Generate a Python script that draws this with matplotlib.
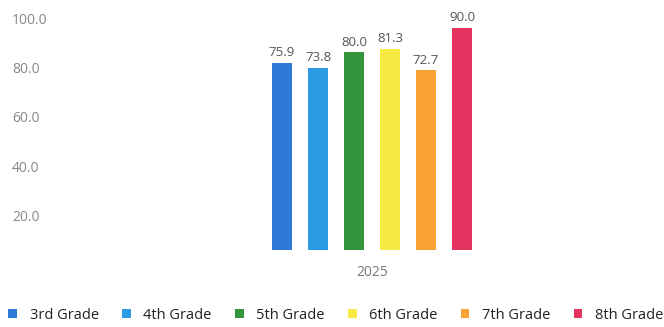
import matplotlib
matplotlib.use('Agg')
import matplotlib.pyplot as plt
import matplotlib.transforms as mtransforms
from matplotlib.patches import Patch

# data
year = '2025'
grades = ['3rd Grade', '4th Grade', '5th Grade', '6th Grade', '7th Grade', '8th Grade']
values = [75.9, 73.8, 80.0, 81.3, 72.7, 90.0]
colors = ['#2f7ad6', '#2b9be3', '#34963c', '#f7ea45', '#f9a133', '#e2335e']
yticks = [20, 40, 60, 80, 100]

plt.rcParams['font.family'] = ['Open Sans', 'DejaVu Sans']

fig = plt.figure(figsize=(6.64, 3.27), dpi=100)
ax = fig.add_axes([46 / 664, 77 / 327, 614 / 664, 247 / 327])

step = 0.36
width = 0.2
n = len(grades)
for i, (g, v, c) in enumerate(zip(grades, values, colors)):
    x = (i - (n - 1) / 2) * step
    ax.bar(x, v, width=width, color=c, label=g)
    ax.text(x, v + 1.5, f'{v:.1f}', ha='center', va='bottom', fontsize=9.5, color='#555555')

ax.set_xlim(-3.26, 2.88)
ax.set_ylim(0, 100)
ax.set_xticks([0])
ax.set_xticklabels([year], fontsize=10, color='#777777')
ax.set_yticks(yticks)
ax.set_yticklabels([f'{t:.1f}' for t in yticks], fontsize=10, color='#888888')
ax.tick_params(axis='both', length=0)
ax.tick_params(axis='x', pad=11)
ax.tick_params(axis='y', pad=24.5)

# labels sit a bit below their gridline in the reference
shift = mtransforms.ScaledTranslation(0, -15 / 100, fig.dpi_scale_trans)
for lab in ax.get_yticklabels():
    lab.set_horizontalalignment('left')
    lab.set_transform(lab.get_transform() + shift)

for s in ax.spines.values():
    s.set_visible(False)

handles = [Patch(facecolor=c, edgecolor='none') for c in colors]
fig.legend(handles, grades, loc='lower left', bbox_to_anchor=(4 / 664, 0.0), ncol=n,
           frameon=False, fontsize=10.5, handlelength=0.6, handleheight=0.6,
           handletextpad=0.85, columnspacing=1.6, borderaxespad=0.0,
           borderpad=0.3, labelcolor='#222222')

fig.savefig('out.png', dpi=100)
